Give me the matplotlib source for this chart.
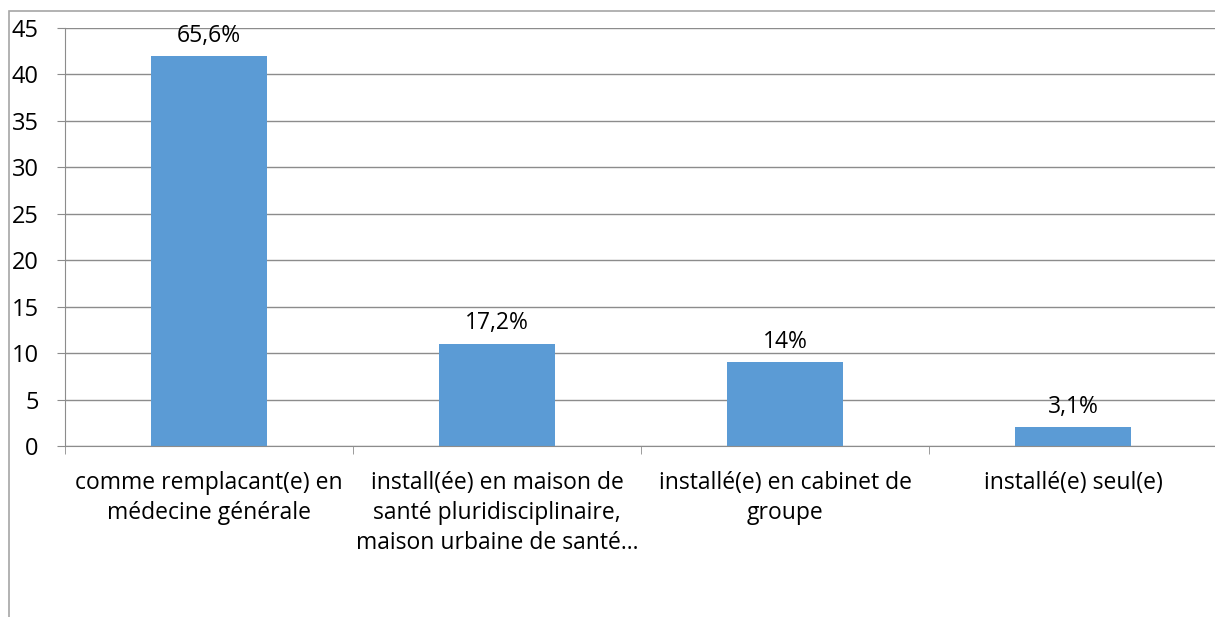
import matplotlib.pyplot as plt
import matplotlib.patches as mpatches
import numpy as np

categories = ["comme remplacant(e) en\nmédecine générale",
              "install(ée) en maison de\nsanté pluridisciplinaire,\nmaison urbaine de santé...",
              "installé(e) en cabinet de\ngroupe",
              "installé(e) seul(e)"]
values = [42, 11, 9, 2]
labels = ["65,6%", "17,2%", "14%", "3,1%"]

plt.rcParams['font.family'] = ['Open Sans', 'DejaVu Sans']
grey = '#8c8c8c'

fig = plt.figure(figsize=(12.15, 6.17), dpi=100)
# outer chart border
fig.patches.append(mpatches.Rectangle((9 / 1215, -0.1), 1.2, 1 - 11 / 617 + 0.1,
                                      transform=fig.transFigure, fill=False,
                                      edgecolor='#a6a6a6', linewidth=1.2))
ax = fig.add_axes([65 / 1215, 1 - 446 / 617, (1217 - 65) / 1215, (446 - 28) / 617])

x = np.arange(len(values))
ax.bar(x, values, width=0.4, color='#5b9bd5', zorder=3)
for xi, v, lab in zip(x, values, labels):
    ax.text(xi, v + 0.9, lab, ha='center', va='bottom', fontsize=16.5)

ax.set_xlim(-0.5, len(values) - 0.5)
ax.set_ylim(0, 45)
ax.set_yticks(range(0, 46, 5))
ax.tick_params(axis='y', labelsize=17, length=6, color=grey, pad=13)
ax.grid(axis='y', color=grey, linewidth=1, zorder=0)

ax.set_xticks(x)
ax.set_xticklabels(categories, fontsize=16.5, linespacing=1.33, va='top')
ax.tick_params(axis='x', length=0, pad=18)
ax.set_xticks(np.arange(len(values) + 1) - 0.5, minor=True)
ax.tick_params(axis='x', which='minor', length=6, color=grey)

for side in ['top', 'right']:
    ax.spines[side].set_visible(False)
ax.spines['left'].set_color(grey)
ax.spines['bottom'].set_color(grey)
ax.spines['bottom'].set_zorder(4)

fig.savefig('out.png', dpi=100)
